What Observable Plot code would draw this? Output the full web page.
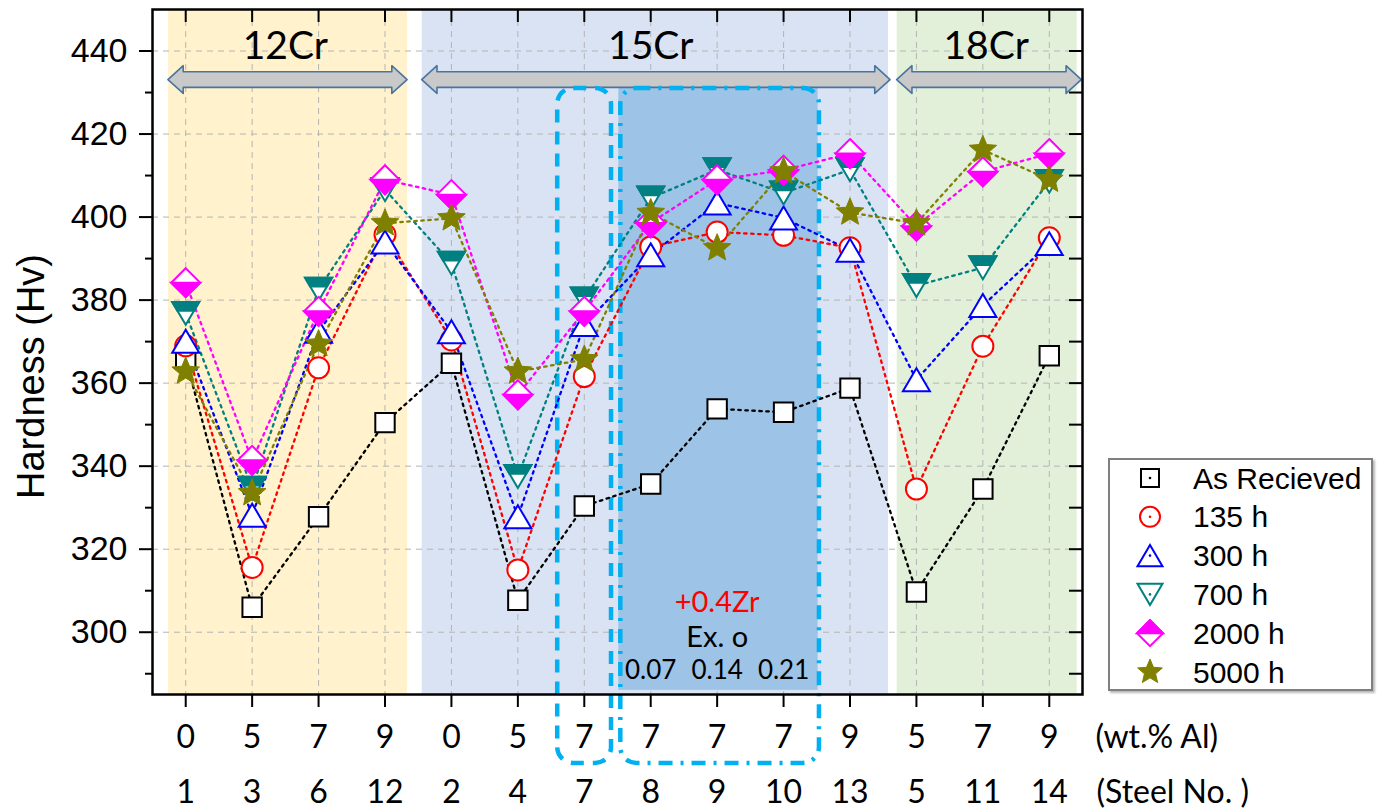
<!DOCTYPE html>
<html>
<head>
<meta charset="utf-8">
<script src="https://cdn.jsdelivr.net/npm/d3@7"></script>
<script src="https://cdn.jsdelivr.net/npm/@observablehq/plot@0.6"></script>
<style>
  body { margin: 0; background: #fff; }
  #chart { position: relative; width: 1389px; height: 812px; overflow: hidden; }
  #legend {
    position: absolute; left: 1108px; top: 458px; width: 265px; height: 233px;
    box-sizing: border-box; border: 2px solid #7f7f7f; background: #fff;
    box-shadow: 2px 2px 2px #b8b8b8;
  }
</style>
</head>
<body>
<div id="chart"><div id="legend"></div></div>
<script>
// Steel compositions along the x axis
const alContent = [0, 5, 7, 9, 0, 5, 7, 7, 7, 7, 9, 5, 7, 9];
const steelNo   = [1, 3, 6, 12, 2, 4, 7, 8, 9, 10, 13, 5, 11, 14];

// Vickers hardness after ageing
const seriesNames = ["As Recieved", "135 h", "300 h", "700 h", "2000 h", "5000 h"];
const hvAsReceived = [365.9, 306.0, 327.8, 350.5, 364.8, 307.7, 330.4, 335.7, 353.8, 353.0, 358.8, 309.7, 334.5, 366.6];
const hv135  = [369.0, 315.6, 363.7, 395.8, 370.4, 315.0, 361.6, 392.8, 396.4, 395.6, 392.6, 334.5, 368.9, 395.0];
const hv300  = [370.1, 328.2, 372.5, 394.0, 372.4, 327.8, 374.1, 390.9, 403.4, 399.8, 392.0, 360.8, 378.7, 393.6];
const hv700  = [376.8, 334.7, 382.6, 406.6, 388.9, 337.5, 380.3, 404.6, 411.4, 405.8, 411.4, 383.5, 387.8, 408.6];
const hv2000 = [384.2, 341.4, 377.3, 409.0, 405.4, 357.2, 377.3, 398.6, 409.0, 411.3, 415.3, 397.8, 410.9, 415.3];
const hv5000 = [362.8, 333.5, 369.4, 398.5, 399.7, 362.8, 365.7, 401.0, 392.5, 411.0, 401.1, 398.5, 416.2, 409.0];

// Cr groups and the Zr-added steels
const crGroups = ["12Cr", "15Cr", "18Cr"];
const zrLabel = "+0.4Zr";
const zrSubLabel = "Ex. o";
const zrContent = ["0.07", "0.14", "0.21"];

const idx = d3.range(alContent.length);

// ---- marker shapes (size -> half-width r) ----
const R = s => Math.sqrt(s / Math.PI);
const sym = {
  square: { draw(c, s) { const r = R(s); c.rect(-r, -r, 2 * r, 2 * r); } },
  circle: { draw(c, s) { const r = R(s); c.moveTo(r, 0); c.arc(0, 0, r, 0, 2 * Math.PI); } },
  triUp: { draw(c, s) { const r = R(s), h = 0.85 * r; c.moveTo(0, -h); c.lineTo(r, h); c.lineTo(-r, h); c.closePath(); } },
  triDown: { draw(c, s) { const r = R(s), h = 0.85 * r; c.moveTo(0, h); c.lineTo(r, -h); c.lineTo(-r, -h); c.closePath(); } },
  triDownTop: { draw(c, s) {
    const r = R(s), h = 0.85 * r, f = 0.38, yb = -h + 2 * h * f, w = r * (1 - f);
    c.moveTo(-r, -h); c.lineTo(r, -h); c.lineTo(w, yb); c.lineTo(-w, yb); c.closePath();
  } },
  diamond: { draw(c, s) { const r = R(s); c.moveTo(0, -r); c.lineTo(r, 0); c.lineTo(0, r); c.lineTo(-r, 0); c.closePath(); } },
  diamondLow: { draw(c, s) { const r = R(s); c.moveTo(-r, 0); c.lineTo(r, 0); c.lineTo(0, r); c.closePath(); } },
  diamondHigh: { draw(c, s) { const r = R(s); c.moveTo(-r, 0); c.lineTo(r, 0); c.lineTo(0, -r); c.closePath(); } },
  star: { draw(c, s) {
    const r = R(s), ri = r * 0.45;
    for (let k = 0; k < 10; k++) {
      const a = -Math.PI / 2 + k * Math.PI / 5, rr = k % 2 ? ri : r;
      k ? c.lineTo(rr * Math.cos(a), rr * Math.sin(a)) : c.moveTo(rr * Math.cos(a), rr * Math.sin(a));
    }
    c.closePath();
  } }
};

const series = [
  { values: hvAsReceived, color: "#000000",
    layers: [{ symbol: sym.square, r: 9.7, fill: "white" }],
    key: [{ symbol: sym.square, r: 9, fill: "white" }] },
  { values: hv135, color: "#ff0000",
    layers: [{ symbol: sym.circle, r: 10.5, fill: "white" }],
    key: [{ symbol: sym.circle, r: 10, fill: "white" }] },
  { values: hv300, color: "#0000ff",
    layers: [{ symbol: sym.triUp, r: 13.5, fill: "white" }],
    key: [{ symbol: sym.triUp, r: 12.5, fill: "white" }] },
  { values: hv700, color: "#008080",
    layers: [{ symbol: sym.triDown, r: 13.5, fill: "white" }, { symbol: sym.triDownTop, r: 13.5, fill: "#008080" }],
    key: [{ symbol: sym.triDown, r: 12.5, fill: "white" }] },
  { values: hv2000, color: "#ff00ff",
    layers: [{ symbol: sym.diamond, r: 14.5, fill: "white" }, { symbol: sym.diamondLow, r: 14.5, fill: "#ff00ff" }],
    key: [{ symbol: sym.diamond, r: 13, fill: "white" }, { symbol: sym.diamondHigh, r: 13, fill: "#ff00ff" }] },
  { values: hv5000, color: "#808000",
    layers: [{ symbol: sym.star, r: 14.5, fill: "#808000", sw: 1 }],
    key: [{ symbol: sym.star, r: 13, fill: "#808000", sw: 1 }] }
];

// ---- annotation geometry (x in category index, y in Hv) ----
const groupSpans = [
  { from: -0.26, to: 3.34, fill: "#fff2cc", labelX: 1.5 },
  { from: 3.56, to: 10.58, fill: "#dae3f3", labelX: 7.0 },
  { from: 10.71, to: 13.42, fill: "#e2f0d9", labelX: 12.05 }
];
const arrowSpans = [[-0.26, 3.34], [3.56, 10.61], [10.71, 13.49]];
const arrowY = 433.0, shaftH = 1.88, headH = 3.34, headL = 0.23;
function arrowPoints([a, b]) {
  return [
    { x: a, lo: arrowY, hi: arrowY },
    { x: a + headL, lo: arrowY - headH, hi: arrowY + headH },
    { x: a + headL, lo: arrowY - shaftH, hi: arrowY + shaftH },
    { x: b - headL, lo: arrowY - shaftH, hi: arrowY + shaftH },
    { x: b - headL, lo: arrowY - headH, hi: arrowY + headH },
    { x: b, lo: arrowY, hi: arrowY }
  ];
}
const zrZone = { x1: 6.52, x2: 9.52, y1: 286.0, y2: 431.0 };
const boxDashed = { x1: 5.60, x2: 6.41, y1: 268.4, y2: 431.0 };
const boxDashDot = { x1: 6.55, x2: 9.54, y1: 268.4, y2: 431.0 };

const cyan = "#00b0f0";
const calibriLike = "Lato, 'Open Sans', sans-serif";
const arial = "'Liberation Sans', Arial, sans-serif";

const marks = [
  // composition groups
  Plot.rect(groupSpans, { x1: "from", x2: "to", fill: "fill" }),
  // grid
  Plot.gridY(d3.range(300, 441, 20), { stroke: "#b4b4b4", strokeOpacity: 1, strokeDasharray: "6,5", strokeWidth: 1 }),
  Plot.gridX(idx, { stroke: "#b4b4b4", strokeOpacity: 1, strokeDasharray: "6,5", strokeWidth: 1 }),
  // Zr-added steels
  Plot.rect([zrZone], { x1: "x1", x2: "x2", y1: "y1", y2: "y2", fill: "#9dc3e6" }),
  // double arrows and group labels
  ...arrowSpans.map(s => Plot.areaY(arrowPoints(s), { x: "x", y1: "lo", y2: "hi", curve: "linear", fill: "#c9c9c9", stroke: "#4a74a0", strokeWidth: 1.6 })),
  Plot.text(groupSpans, { x: "labelX", y: 441, text: (d, i) => crGroups[i], fontFamily: calibriLike, fontSize: 39, fill: "black", lineAnchor: "middle" }),
  Plot.text([zrLabel], { x: 8, y: 307.2, text: d => d, fill: "#ff0000", fontFamily: calibriLike, fontSize: 29, lineAnchor: "middle" }),
  Plot.text([zrSubLabel], { x: 8, y: 298.7, text: d => d, fill: "black", fontFamily: calibriLike, fontSize: 29, lineAnchor: "middle" }),
  Plot.text(zrContent, { x: (d, i) => 7 + i, y: 290.8, text: d => d, fill: "black", fontFamily: calibriLike, fontSize: 26, lineAnchor: "middle" }),
  // dashed outlines
  Plot.rect([boxDashed], { x1: "x1", x2: "x2", y1: "y1", y2: "y2", fill: "none", stroke: cyan, strokeWidth: 4.5, strokeDasharray: "13,9", rx: 16 }),
  Plot.rect([boxDashDot], { x1: "x1", x2: "x2", y1: "y1", y2: "y2", fill: "none", stroke: cyan, strokeWidth: 4.5, strokeDasharray: "14,8,3,8", rx: 16 }),
  // connecting lines
  ...series.map(s => Plot.line(idx, { x: d => d, y: d => s.values[d], stroke: s.color, strokeWidth: 2.3, strokeDasharray: "2.5,4.5" })),
  // markers
  ...series.flatMap(s => s.layers.map(l => Plot.dot(idx, {
    x: d => d, y: d => s.values[d], symbol: l.symbol, r: l.r,
    fill: l.fill, stroke: s.color, strokeWidth: l.sw ?? 2
  }))),
  // axes
  Plot.axisY(d3.range(300, 441, 20), { tickSize: 13, tickPadding: 12, fontSize: 34, fontFamily: arial, strokeWidth: 2, label: null, fill: "black" }),
  Plot.axisY(d3.range(290, 441, 20), { tickSize: 7, tickFormat: () => "", strokeWidth: 2, label: null }),
  Plot.tickY(d3.range(290, 441, 10), { y: d => d, insetLeft: 917, stroke: "black", strokeWidth: 2 }),
  Plot.axisX(idx, { tickSize: 13, tickFormat: () => "", strokeWidth: 2, label: null }),
  Plot.tickX(idx, { x: d => d, insetBottom: 672, stroke: "black", strokeWidth: 2 }),
  Plot.text(idx, { x: d => d, text: d => String(alContent[d]), frameAnchor: "bottom", dy: 43, lineAnchor: "middle", fontFamily: calibriLike, fontSize: 32, fill: "black" }),
  Plot.text(idx, { x: d => d, text: d => String(steelNo[d]), frameAnchor: "bottom", dy: 98, lineAnchor: "middle", fontFamily: calibriLike, fontSize: 32, fill: "black" }),
  Plot.text(["(wt.% Al)"], { frameAnchor: "bottom-right", text: d => d, textAnchor: "start", dx: 13, dy: 43, lineAnchor: "middle", fontFamily: calibriLike, fontSize: 32, letterSpacing: "1px", fill: "black" }),
  Plot.text(["(Steel No. )"], { frameAnchor: "bottom-right", text: d => d, textAnchor: "start", dx: 14, dy: 98, lineAnchor: "middle", fontFamily: calibriLike, fontSize: 32, letterSpacing: "1px", fill: "black" }),
  Plot.text(["Hardness (Hv)"], { y: 361.6, frameAnchor: "left", text: d => d, rotate: -90, dx: -121, textAnchor: "middle", lineAnchor: "middle", fontFamily: arial, fontSize: 38, fill: "black" }),
  Plot.frame({ stroke: "black", strokeWidth: 2.5 })
];

const chart = Plot.plot({
  width: 1389,
  height: 812,
  marginLeft: 152,
  marginRight: 307,
  marginTop: 9,
  marginBottom: 118,
  x: { domain: [-0.5, 13.5], axis: null },
  y: { domain: [285, 450], axis: null },
  style: { fontFamily: arial, background: "white", overflow: "visible", color: "black" },
  marks
});
document.getElementById("chart").prepend(chart);

// ---- legend ----
const legend = d3.select("#legend").append("svg").attr("width", 261).attr("height", 229)
  .style("position", "absolute").style("left", "0").style("top", "0");
const rowY = i => 18 + i * 38.8;
series.forEach((s, i) => {
  const g = legend.append("g").attr("transform", `translate(40,${rowY(i)})`);
  s.key.forEach(l => {
    g.append("path")
      .attr("d", d3.symbol(l.symbol, Math.PI * l.r ** 2)())
      .attr("fill", l.fill).attr("stroke", s.color).attr("stroke-width", l.sw ?? 2);
  });
  if (i < 4) g.append("circle").attr("r", 1.3).attr("fill", s.color);
  legend.append("text").attr("x", 83).attr("y", rowY(i)).attr("dy", "0.35em")
    .attr("font-family", arial).attr("font-size", 30).attr("fill", "black")
    .text(seriesNames[i]);
});
</script>
</body>
</html>
